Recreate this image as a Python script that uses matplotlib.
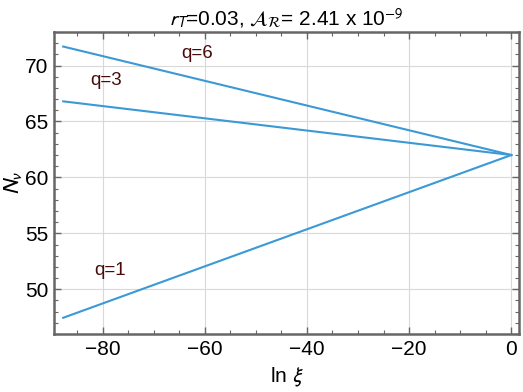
import matplotlib
matplotlib.use("Agg")
import matplotlib.pyplot as plt
from matplotlib.ticker import MultipleLocator

plt.rcParams['font.family'] = ['Liberation Sans', 'DejaVu Sans']
plt.rcParams['mathtext.fontset'] = 'stixsans'

# data
ln_xi = [-87.7, 0.0]
series = {
    "q=1": [47.45, 62.0],
    "q=3": [66.8, 62.0],
    "q=6": [71.7, 62.0],
}
labels = ["q=6", "q=3", "q=1"]
label_pos = {"q=6": (-61.5, 71.1), "q=3": (-79.4, 68.7), "q=1": (-78.5, 51.7)}

fig = plt.figure(figsize=(5.23, 3.92), dpi=100)
ax = fig.add_axes([54/523, 1 - 334/392, (519-54)/523, (334-32)/392])

line_color = '#3b99d6'
for name, vals in series.items():
    ax.plot(ln_xi, vals, color=line_color, lw=1.5)

for name in labels:
    x, y = label_pos[name]
    ax.text(x, y, name, color='#4a0a0a', fontsize=13.5, ha='center', va='center')

ax.set_xlim(-89.5, 1.5)
ax.set_ylim(46.0, 73.0)
ax.xaxis.set_major_locator(MultipleLocator(20))
ax.xaxis.set_minor_locator(MultipleLocator(5))
ax.yaxis.set_major_locator(MultipleLocator(5))
ax.yaxis.set_minor_locator(MultipleLocator(1))
ax.grid(True, which='major', color='#d9d9d9', lw=0.8)
ax.set_axisbelow(True)

for s in ax.spines.values():
    s.set_color('#666666')
    s.set_linewidth(1.8)
ax.tick_params(which='both', direction='in', top=True, right=True, color='#666666',
               labelsize=15, labelcolor='black')
ax.tick_params(which='major', length=5, width=1, pad=4)
ax.tick_params(which='minor', length=3, width=0.8)
ax.set_xticks([-80, -60, -40, -20, 0])
ax.set_xticklabels(['\u221280', '\u221260', '\u221240', '\u221220', '0'])

ax.set_xlabel(r'ln $\xi$', fontsize=15, labelpad=5)
ax.set_ylabel(r'$N_\nu$', fontsize=16, labelpad=1)
ax.set_title(r'$r_T$=0.03, $\mathcal{A}_\mathcal{R}$= 2.41 x 10$^{-9}$', fontsize=15, pad=5)

fig.savefig('out.png', dpi=100)
